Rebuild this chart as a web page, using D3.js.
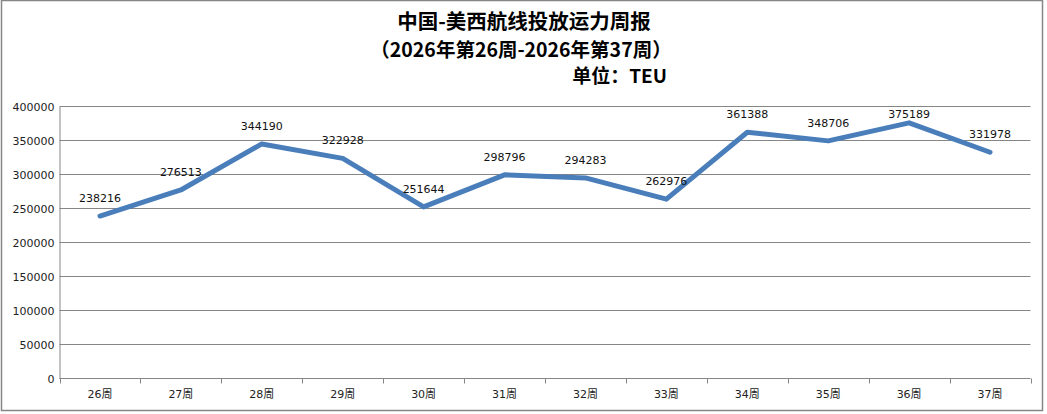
<!DOCTYPE html>
<html><head><meta charset="utf-8">
<script src="https://cdn.jsdelivr.net/npm/d3@7/dist/d3.min.js"></script>
<style>body{margin:0;background:#fff}svg{display:block}</style>
</head><body><svg id="c" width="1047" height="414"></svg>
<script>
const categories = ["26周","27周","28周","29周","30周","31周","32周","33周","34周","35周","36周","37周"];
const values = [238216,276513,344190,322928,251644,298796,294283,262976,361388,348706,375189,331978];
const yTicks = [0,50000,100000,150000,200000,250000,300000,350000,400000];
const titleLines = ["中国-美西航线投放运力周报","（2026年第26周-2026年第37周）"];
const unitLabel = "单位：TEU";

(function(){
const svg = d3.select("#c");
const pL = 59.5, pR = 1030.5, pT = 106, pB = 378;
svg.append("rect").attr("x",1.5).attr("y",0.5).attr("width",1041).attr("height",410)
  .attr("fill","#fff").attr("stroke","#868686").attr("stroke-width",1.5);

const x = d3.scaleBand().domain(categories).range([pL,pR]).padding(0);
const y = d3.scaleLinear().domain([0,400000]).range([pB,pT]);

svg.append("g").selectAll("line").data(yTicks.filter(d=>d>0)).join("line")
  .attr("x1",pL).attr("x2",pR)
  .attr("y1",d=>Math.round(y(d))+0.5).attr("y2",d=>Math.round(y(d))+0.5)
  .attr("stroke","#868686").attr("stroke-width",1);

const yAxis = d3.axisLeft(y).tickValues(yTicks).tickSize(0).tickPadding(5).tickFormat(d3.format("d"));
const gy = svg.append("g").attr("transform",`translate(${pL},0.5)`).call(yAxis);
gy.select(".domain").attr("stroke","#868686");
gy.selectAll("text").attr("font-family","DejaVu Sans").attr("font-size",11).attr("fill","#222");

const xAxis = d3.axisBottom(x).tickSize(0).tickPadding(12);
const gx = svg.append("g").attr("transform",`translate(0,${pB+0.5})`).call(xAxis);
gx.select(".domain").attr("stroke","#868686").attr("d",`M${pL},0H${pR}`);
gx.selectAll("text").attr("font-family","DejaVu Sans, Noto Sans CJK SC").attr("font-size",11).attr("fill","#222");
const bounds = categories.map(c=>x(c)).concat([pR]);
gx.append("g").selectAll("line").data(bounds).join("line")
  .attr("x1",d=>Math.round(d)+0.5).attr("x2",d=>Math.round(d)+0.5).attr("y1",0).attr("y2",5)
  .attr("stroke","#868686");

const line = d3.line().x((d,i)=>x(categories[i])+x.bandwidth()/2).y(d=>y(d));
svg.append("path").datum(values).attr("d",line).attr("fill","none")
  .attr("stroke","#4a7ebb").attr("stroke-width",5).attr("stroke-linejoin","round").attr("stroke-linecap","round");

svg.append("g").selectAll("text").data(values).join("text")
  .attr("x",(d,i)=>x(categories[i])+x.bandwidth()/2)
  .attr("y",d=>Math.max(y(d)-14, pT+12))
  .attr("text-anchor","middle").attr("font-family","DejaVu Sans").attr("font-size",11).attr("fill","#111")
  .text(d=>d);

const tf = "'Noto Sans CJK SC', sans-serif";
svg.append("text").attr("x",524).attr("y",29).attr("text-anchor","middle")
  .attr("font-family",tf).attr("font-weight","bold").attr("font-size",20.5).text(titleLines[0]);
svg.append("text").attr("x",521).attr("y",57).attr("text-anchor","middle")
  .attr("font-family",tf).attr("font-weight","bold").attr("font-size",19.5).text(titleLines[1]);
svg.append("text").attr("x",667).attr("y",83).attr("text-anchor","end")
  .attr("font-family",tf).attr("font-weight","bold").attr("font-size",19).text(unitLabel);
})();
</script></body></html>
